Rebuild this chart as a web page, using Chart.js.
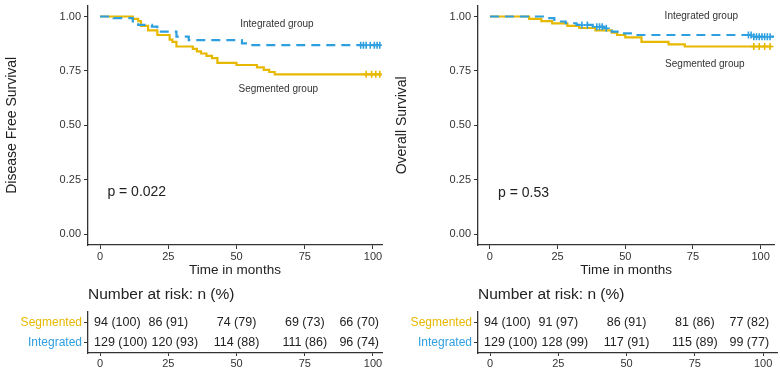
<!DOCTYPE html>
<html>
<head>
<meta charset="utf-8">
<script src="https://cdn.jsdelivr.net/npm/chart.js@4.4.0/dist/chart.umd.min.js"></script>
<style>
  body { margin: 0; background: #fff; }
  .box { position: absolute; }
</style>
</head>
<body>
<div class="box" style="left:0;top:0"><canvas id="dfsChart" width="390" height="280"></canvas></div>
<div class="box" style="left:390px;top:0"><canvas id="osChart" width="390" height="280"></canvas></div>
<div class="box" style="left:0;top:280px"><canvas id="dfsRisk" width="390" height="93"></canvas></div>
<div class="box" style="left:390px;top:280px"><canvas id="osRisk" width="390" height="93"></canvas></div>
<script>
const xTicks = [0, 25, 50, 75, 100];
const yTicks = [0, 0.25, 0.5, 0.75, 1];
const groups = ['Segmented', 'Integrated'];

// Disease free survival (step curves)
const dfsSegTime = [0, 12, 14, 15, 17.6, 21, 25.5, 26.5, 28, 34, 35.5, 37, 39, 41, 43, 50, 57.5, 60, 62, 64, 103];
const dfsSegSurv = [1, 0.989, 0.979, 0.957, 0.936, 0.915, 0.894, 0.883, 0.862, 0.851, 0.840, 0.830, 0.819, 0.809, 0.787, 0.777, 0.766, 0.755, 0.745, 0.734, 0.734];
const dfsSegCensor = [97.5, 99.5, 101, 102.5];
const dfsIntTime = [0, 5, 12, 14, 19, 21, 28, 32.5, 52, 54, 103];
const dfsIntSurv = [1, 0.992, 0.977, 0.961, 0.953, 0.930, 0.907, 0.891, 0.876, 0.868, 0.868];
const dfsIntCensor = [95.5, 96.5, 97.5, 99, 100.5, 101.5, 102.5];

// Overall survival
const osSegTime = [0, 14.5, 19, 23, 28.6, 33, 39, 45, 47, 50, 56, 66, 72, 104];
const osSegSurv = [1, 0.989, 0.979, 0.968, 0.957, 0.947, 0.936, 0.926, 0.915, 0.904, 0.883, 0.872, 0.862, 0.862];
const osSegCensor = [97.5, 99.5, 101.5, 103.5];
const osIntTime = [0, 20, 23.8, 28, 32, 38, 42, 45, 48, 53, 97, 105];
const osIntSurv = [1, 0.992, 0.977, 0.969, 0.961, 0.953, 0.946, 0.930, 0.922, 0.915, 0.907, 0.907];
const osIntCensor = [34, 36, 39.5, 40.5, 41.5, 43, 95.5, 96.5, 97.5, 98.5, 99.5, 100.5, 101.5, 102.5, 103.5];

// Number at risk
const riskTimes = [0, 25, 50, 75, 100];
const dfsRiskSeg = ['94 (100)', '86 (91)', '74 (79)', '69 (73)', '66 (70)'];
const dfsRiskInt = ['129 (100)', '120 (93)', '114 (88)', '111 (86)', '96 (74)'];
const osRiskSeg = ['94 (100)', '91 (97)', '86 (91)', '81 (86)', '77 (82)'];
const osRiskInt = ['129 (100)', '128 (99)', '117 (91)', '115 (89)', '99 (77)'];

const SEG = '#E7B800';
const INT = '#2E9FDF';
const INK = '#222';
const AXIS = '#333';
const FONT = '"Liberation Sans", Arial, sans-serif';
Chart.defaults.font.family = FONT;

function survAt(times, surv, t) {
    let s = surv[0];
    for (let i = 0; i < times.length; i++) if (times[i] <= t) s = surv[i];
    return s;
}

const notesPlugin = {
    id: 'notes',
    afterDraw(chart, args, opts) {
        const { ctx, scales: { x, y } } = chart;
        ctx.save();
        (opts.items || []).forEach(it => {
            ctx.font = it.size + 'px ' + FONT;
            ctx.fillStyle = it.color || INK;
            ctx.textAlign = it.align || 'center';
            ctx.textBaseline = 'middle';
            ctx.fillText(it.text, x.getPixelForValue(it.x), y.getPixelForValue(it.y));
        });
        ctx.restore();
    }
};

function makeSurvChart(id, segT, segS, segC, intT, intS, intC, yTitle, xMax, padRight, padTop, notes) {
    new Chart(document.getElementById(id).getContext('2d'), {
        type: 'line',
        data: {
            datasets: [{
                label: 'Integrated',
                data: intT.map((t, i) => ({ x: t, y: intS[i] })),
                borderColor: INT, borderWidth: 2.2, borderDash: [9, 6],
                stepped: true, pointRadius: 0, fill: false, order: 0
            }, {
                label: 'Segmented',
                data: segT.map((t, i) => ({ x: t, y: segS[i] })),
                borderColor: SEG, borderWidth: 2.2,
                stepped: true, pointRadius: 0, fill: false, order: 1
            }, {
                label: 'Integrated censored',
                data: intC.map(t => ({ x: t, y: survAt(intT, intS, t) })),
                showLine: false, pointStyle: 'cross', pointRadius: 3.5,
                borderColor: INT, borderWidth: 1.6, order: 0
            }, {
                label: 'Segmented censored',
                data: segC.map(t => ({ x: t, y: survAt(segT, segS, t) })),
                showLine: false, pointStyle: 'cross', pointRadius: 3.5,
                borderColor: SEG, borderWidth: 1.6, order: 1
            }]
        },
        options: {
            responsive: false,
            animation: false,
            layout: { padding: { top: padTop, right: padRight, left: 0, bottom: 0 } },
            scales: {
                x: {
                    type: 'linear', min: -4.4, max: xMax,
                    afterBuildTicks: s => { s.ticks = xTicks.map(v => ({ value: v })); },
                    ticks: { font: { size: 11 }, color: AXIS, padding: 1, maxRotation: 0 },
                    grid: { drawOnChartArea: false, tickLength: 4, color: AXIS },
                    border: { color: AXIS, width: 1.3 },
                    title: { display: true, text: 'Time in months', font: { size: 13.5 }, color: INK, padding: { top: 0, bottom: 2 } },
                    afterFit: s => { s.height = 35; s.paddingLeft = 0; s.paddingRight = 0; }
                },
                y: {
                    type: 'linear', min: -0.05, max: 1.05,
                    afterBuildTicks: s => { s.ticks = yTicks.map(v => ({ value: v })); },
                    ticks: { font: { size: 11 }, color: AXIS, padding: 3, callback: v => v.toFixed(2) },
                    grid: { drawOnChartArea: false, tickLength: 4, color: AXIS },
                    border: { color: AXIS, width: 1.3 },
                    title: { display: true, text: yTitle, font: { size: 14 }, color: INK, padding: { top: 4, bottom: 0 } },
                    afterFit: s => { s.width = 88; s.paddingTop = 0; s.paddingBottom = 0; }
                }
            },
            plugins: {
                legend: { display: false },
                tooltip: { enabled: false },
                notes: { items: notes }
            }
        },
        plugins: [notesPlugin]
    });
}

makeSurvChart('dfsChart', dfsSegTime, dfsSegSurv, dfsSegCensor, dfsIntTime, dfsIntSurv, dfsIntCensor,
    'Disease Free Survival', 103.3, 8, 5, [
        { text: 'Integrated group', x: 64.8, y: 0.963, size: 10, color: AXIS },
        { text: 'Segmented group', x: 65.3, y: 0.665, size: 10, color: AXIS },
        { text: 'p = 0.022', x: 2.7, y: 0.193, size: 14, align: 'left' }
    ]);

makeSurvChart('osChart', osSegTime, osSegSurv, osSegCensor, osIntTime, osIntSurv, osIntCensor,
    'Overall Survival', 105.1, 3, 3, [
        { text: 'Integrated group', x: 78.1, y: 1.0, size: 10, color: AXIS },
        { text: 'Segmented group', x: 79.4, y: 0.78, size: 10, color: AXIS },
        { text: 'p = 0.53', x: 3.0, y: 0.189, size: 14, align: 'left' }
    ]);

const riskPlugin = {
    id: 'riskText',
    afterDraw(chart, args, opts) {
        const { ctx, chartArea } = chart;
        ctx.save();
        ctx.fillStyle = INK;
        ctx.textBaseline = 'middle';
        ctx.font = '15.5px ' + FONT;
        ctx.textAlign = 'left';
        ctx.fillText('Number at risk: n (%)', chartArea.left, 15);
        ctx.font = '12.5px ' + FONT;
        chart.data.datasets.forEach((ds, di) => {
            const meta = chart.getDatasetMeta(di);
            let prevRight = -Infinity;
            meta.data.forEach((pt, i) => {
                const w = ctx.measureText(ds.texts[i]).width;
                let left;
                if (i === 0) left = pt.x - 6;
                else if (i === ds.texts.length - 1) left = pt.x + 6 - w;
                else left = pt.x - w / 2;
                // keep a small gap from the previous cell
                if (left < prevRight + 4) left = prevRight + 4;
                ctx.textAlign = 'left';
                ctx.fillText(ds.texts[i], left, pt.y);
                prevRight = left + w;
            });
        });
        ctx.restore();
    }
};

function makeRiskTable(id, segTexts, intTexts, xMax, padRight) {
    new Chart(document.getElementById(id).getContext('2d'), {
        type: 'line',
        data: {
            datasets: [{
                label: groups[0],
                data: riskTimes.map(t => ({ x: t, y: groups[0] })),
                texts: segTexts, showLine: false, pointRadius: 0
            }, {
                label: groups[1],
                data: riskTimes.map(t => ({ x: t, y: groups[1] })),
                texts: intTexts, showLine: false, pointRadius: 0
            }]
        },
        options: {
            responsive: false,
            animation: false,
            layout: { padding: { top: 32, right: padRight, left: 0, bottom: 0 } },
            scales: {
                x: {
                    type: 'linear', min: -4.4, max: xMax,
                    afterBuildTicks: s => { s.ticks = xTicks.map(v => ({ value: v })); },
                    ticks: { font: { size: 11 }, color: AXIS, padding: 1, maxRotation: 0 },
                    grid: { drawOnChartArea: false, tickLength: 3, color: AXIS },
                    border: { color: AXIS, width: 1.3 },
                    afterFit: s => { s.height = 20; s.paddingLeft = 0; s.paddingRight = 0; }
                },
                y: {
                    type: 'category', labels: groups, offset: true,
                    ticks: { font: { size: 12 }, color: c => (c.index === 0 ? SEG : INT), padding: 2 },
                    grid: { drawOnChartArea: false, tickLength: 4, color: AXIS },
                    border: { color: AXIS, width: 1.3 },
                    afterFit: s => { s.width = 88; s.paddingTop = 0; s.paddingBottom = 0; }
                }
            },
            plugins: { legend: { display: false }, tooltip: { enabled: false } }
        },
        plugins: [riskPlugin]
    });
}

makeRiskTable('dfsRisk', dfsRiskSeg, dfsRiskInt, 103.3, 8);
makeRiskTable('osRisk', osRiskSeg, osRiskInt, 105.1, 3);
</script>
</body>
</html>
